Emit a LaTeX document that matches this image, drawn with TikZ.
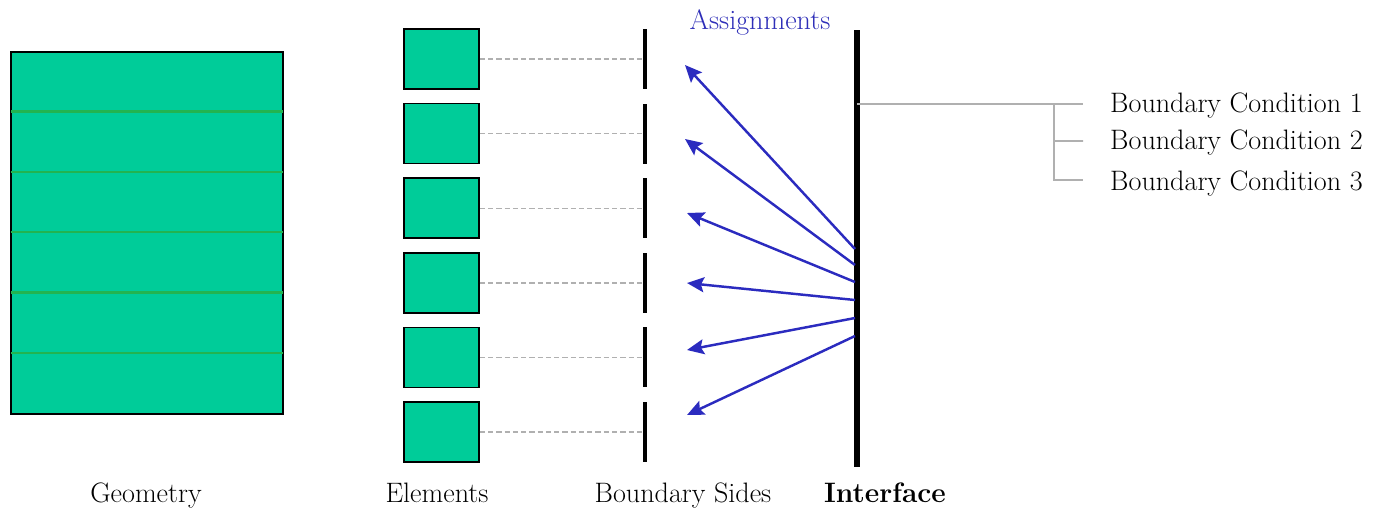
\documentclass[tikz,border=0pt]{standalone}
\usetikzlibrary{arrows.meta,positioning}

\definecolor{cellgreen}{HTML}{00CC99}
\definecolor{stripegreen}{HTML}{22B450}
\definecolor{linkgray}{HTML}{B0B0B0}
\definecolor{assignblue}{HTML}{2B2BBF}
\definecolor{assigntext}{HTML}{2E2EB8}

\begin{document}
\begin{tikzpicture}[x=0.02cm, y=-0.02cm,
    cell/.style={draw=black, line width=1pt, fill=cellgreen,
        minimum width=1.5cm, minimum height=1.2cm, inner sep=0pt},
    sidebar/.style={fill=black, minimum width=0.08cm, minimum height=1.2cm, inner sep=0pt},
    link/.style={draw=linkgray, line width=0.8pt, dash pattern=on 3pt off 1.7pt},
    branch/.style={draw=linkgray, line width=1pt},
    assign/.style={draw=assignblue, line width=1.4pt,
        -{Stealth[length=0.34cm, width=0.3cm, inset=0.06cm]}},
    caption/.style={font=\fontsize{16}{19}\selectfont}
]
    \useasboundingbox (0,0) rectangle (1383,508);

    % Geometry block with its strips
    \node[draw=black, line width=1pt, fill=cellgreen, inner sep=0pt,
        minimum width=5.44cm, minimum height=7.24cm] (geom) at (147,233) {};
    \foreach \k in {1,...,5} {
        \draw[stripegreen, line width=1.2pt]
            ([yshift=-\k*1.207cm, xshift=0.5pt]geom.north west) --
            ([yshift=-\k*1.207cm, xshift=-0.5pt]geom.north east);
    }

    % Elements and boundary sides
    \foreach \i in {1,...,6} {
        \node[cell] (el\i) at (441.5, {59+(\i-1)*74.6}) {};
        \node[sidebar] (bs\i) at (645, {59+(\i-1)*74.6}) {};
        \draw[link] (el\i.east) -- (bs\i.center);
    }

    % Interface
    \node[fill=black, inner sep=0pt, minimum width=0.11cm, minimum height=8.74cm]
        (iface) at (857,248.5) {};

    % Assignments
    \node[caption, text=assigntext, anchor=base] (assignlabel) at (760,29) {Assignments};
    \foreach \i/\sy/\tx/\ty in {1/249/685/65, 2/265/685/139, 3/282/687/213,
                                4/300/687/283, 5/318/687/350, 6/336/687/415} {
        \coordinate (src\i) at (855,\sy);
        \coordinate (tip\i) at (\tx,\ty);
        \draw[assign] (src\i) -- (tip\i);
    }

    % Boundary conditions
    \node[caption, anchor=base west] (bc1) at (1104,112) {Boundary Condition 1};
    \node[caption, anchor=base west] (bc2) at (1104,149) {Boundary Condition 2};
    \node[caption, anchor=base west] (bc3) at (1104,190) {Boundary Condition 3};
    \coordinate (fork) at (1054,104);
    \draw[branch] (iface.center |- fork) -- ([xshift=-0.42cm]bc1.west |- fork);
    \draw[branch] (fork) |- ([xshift=-0.42cm, yshift=0.2cm]bc3.base west);
    \draw[branch] (fork |- bc2.base) ++(0,-8) -- ([xshift=-0.42cm, yshift=0.16cm]bc2.base west);

    % Captions
    \node[caption, anchor=base] (geomlabel) at (146,502) {Geometry};
    \node[caption, anchor=base] (ellabel) at (437,502) {Elements};
    \node[caption, anchor=base] (bslabel) at (683,502) {Boundary Sides};
    \node[caption, anchor=base] (iflabel) at (885,502) {\textbf{Interface}};
\end{tikzpicture}
\end{document}
